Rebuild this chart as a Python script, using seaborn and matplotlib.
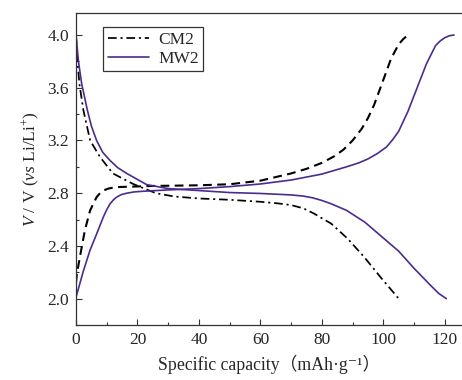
import numpy as np
import pandas as pd
import matplotlib
matplotlib.use("Agg")
import matplotlib.pyplot as plt
from matplotlib.ticker import MultipleLocator
from matplotlib.lines import Line2D
import seaborn as sns

# ---- data ----
cm2_charge_x = [0, 0.3, 1.3, 2.9, 4.6, 6.7, 7.8, 8.9, 10.5, 12, 14, 25, 40, 50, 60, 70, 75, 80, 84, 87, 90, 93, 95, 97, 100, 102.5, 105, 106.5, 108]
cm2_charge_y = [2.12, 2.19, 2.32, 2.52, 2.67, 2.77, 2.80, 2.82, 2.835, 2.842, 2.847, 2.855, 2.86, 2.868, 2.895, 2.95, 2.985, 3.03, 3.08, 3.13, 3.20, 3.29, 3.37, 3.47, 3.66, 3.82, 3.93, 3.97, 4.0]

cm2_dis_x = [0, 0.5, 1.1, 2.4, 4.6, 7.8, 12, 18.6, 26, 32, 40, 50, 60, 66, 70, 74, 77.5, 80, 83, 88.4, 93.8, 99.2, 105]
cm2_dis_y = [4.0, 3.8, 3.63, 3.43, 3.2, 3.075, 2.95, 2.87, 2.80, 2.775, 2.76, 2.75, 2.735, 2.722, 2.71, 2.685, 2.645, 2.61, 2.57, 2.455, 2.315, 2.16, 2.0]

mw2_charge_x = [0, 2.4, 4.6, 6.7, 8.9, 10, 11.1, 12.2, 13.2, 14.8, 16.5, 19, 22, 30, 40, 50, 60, 70, 80, 88, 92, 95, 98, 101, 103, 105, 108, 111, 114, 117, 118.5, 120, 121.5, 123]
mw2_charge_y = [2.01, 2.21, 2.37, 2.49, 2.62, 2.675, 2.72, 2.75, 2.77, 2.79, 2.80, 2.81, 2.815, 2.825, 2.835, 2.85, 2.87, 2.9, 2.945, 3.0, 3.03, 3.06, 3.10, 3.15, 3.205, 3.27, 3.42, 3.6, 3.78, 3.92, 3.955, 3.98, 3.995, 4.0]

mw2_dis_x = [0, 0.8, 1.85, 3.7, 5, 6.7, 8.7, 11, 13.5, 16.5, 23, 30, 40, 50, 60, 70, 74, 77, 80, 83, 88, 94, 99, 105, 110, 115.4, 118, 120.5]
mw2_dis_y = [4.0, 3.8, 3.63, 3.43, 3.31, 3.2, 3.11, 3.05, 2.995, 2.95, 2.865, 2.835, 2.82, 2.805, 2.798, 2.787, 2.778, 2.765, 2.745, 2.72, 2.67, 2.58, 2.48, 2.36, 2.23, 2.10, 2.04, 2.0]

series_names = ["CM2", "MW2"]
x_ticks = [0, 20, 40, 60, 80, 100, 120]
y_ticks = [2.0, 2.4, 2.8, 3.2, 3.6, 4.0]

# ---- style ----
sns.set_style("ticks")
plt.rcParams["font.family"] = ["Liberation Serif", "Noto Sans CJK SC", "DejaVu Sans"]
plt.rcParams["mathtext.fontset"] = "custom"
plt.rcParams["mathtext.rm"] = "Liberation Serif"
plt.rcParams["mathtext.it"] = "Liberation Serif:italic"
plt.rcParams["xtick.direction"] = "in"
plt.rcParams["ytick.direction"] = "in"

purple = "#4b2c8e"
axcol = "#333333"

fig = plt.figure(figsize=(4.62, 3.80), dpi=100)
ax = fig.add_axes([76 / 462, 55 / 380, 1 - 76 / 462, (325 - 13.3) / 380])

def dfm(x, y):
    return pd.DataFrame({"x": x, "y": y})

sns.lineplot(data=dfm(cm2_charge_x, cm2_charge_y), x="x", y="y", ax=ax, sort=False,
             color="black", linewidth=1.5, linestyle=(0, (4.2, 2.6)), estimator=None)
sns.lineplot(data=dfm(cm2_dis_x, cm2_dis_y), x="x", y="y", ax=ax, sort=False,
             color="black", linewidth=1.25, linestyle=(0, (5, 2.2, 1.2, 2.2)), estimator=None)
sns.lineplot(data=dfm(mw2_charge_x, mw2_charge_y), x="x", y="y", ax=ax, sort=False,
             color=purple, linewidth=1.2, estimator=None)
sns.lineplot(data=dfm(mw2_dis_x, mw2_dis_y), x="x", y="y", ax=ax, sort=False,
             color=purple, linewidth=1.2, estimator=None)

ax.set_xlim(0, 125.6)
ax.set_ylim(1.8, 4.165)
ax.set_xticks(x_ticks)
ax.set_yticks(y_ticks)
ax.set_xticklabels([str(v) for v in x_ticks])
ax.set_yticklabels([f"{v:.1f}" for v in y_ticks])
ax.xaxis.set_minor_locator(MultipleLocator(10))
ax.yaxis.set_minor_locator(MultipleLocator(0.2))
ax.tick_params(which="major", length=4.5, width=0.8, color=axcol, labelsize=12.5, pad=5)
ax.tick_params(which="minor", length=2.5, width=0.8, color=axcol)
ax.tick_params(axis="x", which="both", top=False)
ax.tick_params(axis="y", which="both", right=False)

for s in ["left", "bottom", "top"]:
    ax.spines[s].set_color(axcol)
    ax.spines[s].set_linewidth(0.9)
ax.spines["right"].set_visible(False)

ax.set_xlabel("Specific capacity（mAh·g⁻¹）", fontsize=12.8, labelpad=5)
ax.set_ylabel(r"$V$ / V ($vs$ Li/Li$^{+}$)", fontsize=12.5, labelpad=4)

handles = [Line2D([0], [0], color="black", linewidth=1.25, linestyle=(0, (5, 2.2, 1.2, 2.2))),
           Line2D([0], [0], color=purple, linewidth=1.2)]
leg = ax.legend(handles, series_names, loc="upper left", bbox_to_anchor=(0.071, 0.955),
                frameon=True, fancybox=False, edgecolor="black", fontsize=12.5,
                handlelength=2.4, borderpad=0.25, labelspacing=0.15, handletextpad=0.5,
                borderaxespad=0)
leg.get_frame().set_linewidth(0.9)

fig.savefig("out.png", dpi=100)
